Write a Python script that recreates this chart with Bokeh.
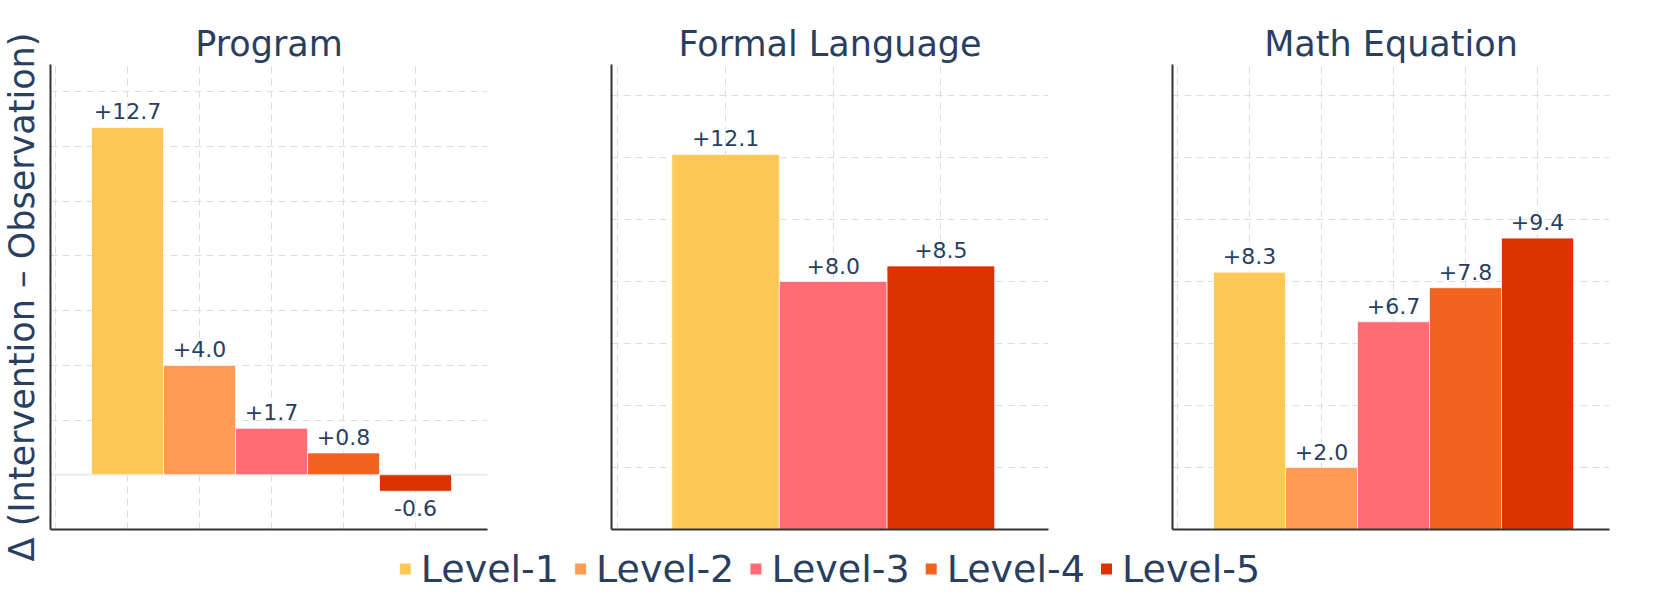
import math
from bokeh.plotting import figure
from bokeh.models import Range1d, FixedTicker, Span, ColumnDataSource
from bokeh.layouts import column, row
from bokeh.embed import file_html
from bokeh.resources import INLINE
from bokeh.core.properties import value

# ---------------- data ----------------
all_levels = ["Level-1", "Level-2", "Level-3", "Level-4", "Level-5"]
level_colors = ["#FEC857", "#FF9B54", "#FF6C75", "#F2641E", "#DC3200"]

panel_titles = ["Program", "Formal Language", "Math Equation"]

program_levels = ["Level-1", "Level-2", "Level-3", "Level-4", "Level-5"]
program_values = [12.7, 4.0, 1.7, 0.8, -0.6]

formal_levels = ["Level-1", "Level-3", "Level-5"]
formal_values = [12.1, 8.0, 8.5]

math_levels = ["Level-1", "Level-2", "Level-3", "Level-4", "Level-5"]
math_values = [8.3, 2.0, 6.7, 7.8, 9.4]

y_axis_title = "Δ (Intervention – Observation)"
y_grid_ticks = [2, 4, 6, 8, 10, 12, 14]

# ---------------- style ----------------
FONT = "DejaVu Sans"
TXT = "#2a3f5f"
FRAME_W = 437
FRAME_H = 465
TOP = 64
ROW_H = TOP + FRAME_H + 5


def make_panel(title, levels, values, y_start, y_end, x_pad, left_border, right_border):
    n = len(values)
    xs = list(range(1, n + 1))
    cols = [level_colors[all_levels.index(l)] for l in levels]
    labels = [f"{v:+.1f}" for v in values]
    yoff = [-16 if v >= 0 else 17 for v in values]
    src = ColumnDataSource(dict(x=xs, top=values, color=cols, label=labels, yoff=yoff, level=levels))

    p = figure(frame_width=FRAME_W, frame_height=FRAME_H,
               x_range=Range1d(-x_pad, n + 1), y_range=Range1d(y_start, y_end),
               output_backend="svg", toolbar_location=None,
               min_border_left=left_border, min_border_right=right_border,
               min_border_top=TOP, min_border_bottom=5)
    p.outline_line_color = None

    for ax in (p.xaxis, p.yaxis):
        ax.ticker = FixedTicker(ticks=[])
        ax.major_tick_line_color = None
        ax.minor_tick_line_color = None
        ax.axis_line_color = "#333333"
        ax.axis_line_width = 2
        ax.major_label_text_font_size = "0px"

    p.xgrid.ticker = FixedTicker(ticks=list(range(0, n + 1)))
    p.ygrid.ticker = FixedTicker(ticks=y_grid_ticks)
    for g in (p.xgrid, p.ygrid):
        g.grid_line_color = "#dcdcdc"
        g.grid_line_dash = "7 5"
        g.grid_line_width = 1

    if y_start < 0:
        p.add_layout(Span(location=0, dimension="width", line_color="#e6ebf2",
                          line_width=2, level="underlay"))

    p.vbar(x="x", top="top", bottom=0, width=1.0, fill_color="color",
           line_color="white", line_width=1, line_alpha=0.7, source=src)
    p.text(x="x", y="top", text="label", y_offset="yoff", text_align="center",
           text_baseline="alphabetic", text_font=value(FONT), text_font_size="22px",
           text_color=TXT, source=src)

    p.title.text = title
    p.title.align = "center"
    p.title.text_font = FONT
    p.title.text_font_size = "35px"
    p.title.text_font_style = "normal"
    p.title.text_color = TXT
    p.title.standoff = 2
    return p


p1 = make_panel(panel_titles[0], program_levels, program_values, -2, 15, 0.07, 3, 62)
p2 = make_panel(panel_titles[1], formal_levels, formal_values, 0, 15, 0.06, 62, 62)
p3 = make_panel(panel_titles[2], math_levels, math_values, 0, 15, 0.07, 62, 10)

# y-axis title strip (spans below the panels, like the reference)
TW, TH = 47, 600
pt = figure(width=TW, height=TH, output_backend="svg", toolbar_location=None,
            x_axis_location=None, y_axis_location=None,
            x_range=Range1d(0, TW), y_range=Range1d(0, TH), min_border=0)
pt.outline_line_color = None
pt.xgrid.visible = False
pt.ygrid.visible = False
frame_mid = TOP + FRAME_H / 2
pt.text(x=[21], y=[TH - frame_mid], text=[y_axis_title], angle=math.pi / 2,
        text_align="center", text_baseline="alphabetic", text_font=value(FONT),
        text_font_size="35px", text_color=TXT)

# legend strip
LX0 = TW
LW = 1661 - TW - 8
LH = 70
pl = figure(width=LW, height=LH, output_backend="svg", toolbar_location=None,
            x_axis_location=None, y_axis_location=None,
            x_range=Range1d(LX0, LX0 + LW), y_range=Range1d(0, LH), min_border=0)
pl.outline_line_color = None
pl.xgrid.visible = False
pl.ygrid.visible = False
pitch = 175.3
first_marker = 404.8
leg_y = LH - (568.5 - ROW_H)
mk_x = [first_marker + i * pitch for i in range(len(all_levels))]
tx_x = [m + 15.5 for m in mk_x]
leg_src = ColumnDataSource(dict(mx=mk_x, tx=tx_x, y=[leg_y] * len(all_levels),
                                color=level_colors, label=all_levels))
pl.rect(x="mx", y="y", width=11, height=11, width_units="screen", height_units="screen",
        fill_color="color", line_color=None, source=leg_src)
pl.text(x="tx", y="y", text="label", text_align="left", text_baseline="middle",
        text_font=value(FONT), text_font_size="38px", text_color=TXT, source=leg_src)

layout = row(pt, column(row(p1, p2, p3, spacing=0), pl, spacing=0), spacing=0)

open("out.html", "w").write(file_html(layout, INLINE))
